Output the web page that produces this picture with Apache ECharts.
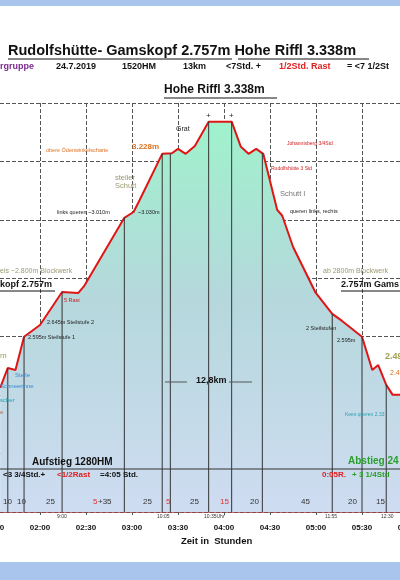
<!DOCTYPE html>
<html><head><meta charset="utf-8">
<script src="https://cdn.jsdelivr.net/npm/echarts@6/dist/echarts.min.js"></script>
<style>body{margin:0}#main{width:400px;height:580px}</style>
</head><body><div id="main"></div>
<script>
// Profil: Zeit (min) und Höhe (m)
var zeit = [94, 99, 104, 109.6, 120, 134.4, 145, 149, 175, 181, 185, 199.7, 206, 210, 215, 221, 230, 245, 251, 256, 261, 265.6, 274.7, 278, 285, 299.5, 310.6, 317, 330, 336.7, 340.6, 345.8, 350, 355];
var hoehe = [2425, 2493, 2486, 2600, 2640, 2753, 2750, 2775, 3007, 3027, 3068, 3226, 3228, 3243, 3226, 3253, 3336, 3336, 3250, 3226, 3243, 3226, 3034, 3014, 2908, 2753, 2678, 2654, 2600, 2486, 2503, 2435, 2401, 2401];
// senkrechte Linien (Zeitpunkte)
var stationen = [99, 109.6, 134.4, 175, 199.7, 205, 230, 245, 265, 310.6, 330, 345.8];
var dauer = ['10', '10', '25', '5+35', '25', '5', '25', '15', '20', '45', '20', '15'];
var dauerX = [3, 17, 46, 93, 143, 166, 190, 220, 250, 301, 348, 376];
var dauerRot = [false, false, false, 'part', false, true, false, true, false, false, false, false];
var uhrzeit = [['9:00', 63], ['10:05', 163], ['10:35Uhr', 210], ['11:55', 331], ['12:30', 387]];

function hoeheBei(t) {
    for (var i = 1; i < zeit.length; i++) {
        if (t <= zeit[i]) {
            var f = (t - zeit[i - 1]) / (zeit[i] - zeit[i - 1]);
            return hoehe[i - 1] + f * (hoehe[i] - hoehe[i - 1]);
        }
    }
    return hoehe[hoehe.length - 1];
}

var profil = zeit.map(function (t, i) { return [t, hoehe[i]]; });
var senkrecht = [];
stationen.forEach(function (t) {
    senkrecht.push([t, 2000], [t, hoeheBei(t)], '-');
});

function txt(x, y, s, f, c, w, extra) {
    var o = {type: 'text', x: x, y: y, z: 100, style: {text: s, font: (w || 'normal') + ' ' + f + 'px Arial', fill: c || '#222'}};
    if (extra) for (var k in extra) o[k] = extra[k];
    return o;
}
function strich(x1, y1, x2, y2, c, w) {
    return {type: 'line', z: 100, shape: {x1: x1, y1: y1, x2: x2, y2: y2}, style: {stroke: c || '#222', lineWidth: w || 1}};
}

var grafik = [
    {type: 'rect', shape: {x: 0, y: 0, width: 400, height: 6}, style: {fill: '#a9c5ee'}},
    {type: 'rect', shape: {x: 0, y: 562, width: 400, height: 18}, style: {fill: '#a9c5ee'}},
    txt(8, 43, 'Rudolfshütte- Gamskopf 2.757m Hohe Riffl 3.338m', 14.5, '#111', 'bold'),
    strich(8, 59, 232, 59, '#111', 1), strich(238, 59, 369, 59, '#111', 1),
    txt(0, 62, 'rgruppe', 9, '#7b2a8e', 'bold'),
    txt(56, 62, '24.7.2019', 9, '#111', 'bold'),
    txt(122, 62, '1520HM', 9, '#111', 'bold'),
    txt(183, 62, '13km', 9, '#111', 'bold'),
    txt(226, 62, '<7Std. +', 9, '#111', 'bold'),
    txt(279, 62, '1/2Std. Rast', 9, '#e02020', 'bold'),
    txt(347, 62, '= <7 1/2St', 9, '#111', 'bold'),
    txt(164, 84, 'Hohe Riffl 3.338m', 12, '#111', 'bold'),
    strich(164, 98, 277, 98, '#111', 1),
    txt(176, 126, 'Grat', 7, '#222'),
    txt(206, 112, '+', 8, '#222'), txt(229, 112, '+', 8, '#222'),
    txt(46, 147, 'obere Ödenwinkelscharte', 5.5, '#e07020'),
    txt(132, 143, '3.228m', 8, '#e07020', 'bold'),
    txt(287, 141, 'Johannisberg 3/4Std', 5, '#d02020'),
    txt(271, 166, 'Rudolfshütte 3 Std', 5, '#d02020'),
    txt(115, 174, 'steiler\nSchutt', 7.5, '#9a9a70'),
    txt(280, 190, 'Schutt I', 7.5, '#777'),
    txt(57, 209, 'links queren ~3.010m', 5.5, '#222'),
    txt(138, 209, '~3.030m', 5.5, '#222'),
    txt(290, 208, 'queren links, rechts', 5.5, '#222'),
    txt(0, 268, 'eis ~2.800m Blockwerk', 7, '#9a9a70'),
    txt(323, 268, 'ab 2800m Blockwerk', 7, '#9a9a70'),
    txt(0, 280, 'kopf 2.757m', 9, '#111', 'bold'), strich(0, 291, 55, 291, '#111', 1),
    txt(341, 280, '2.757m Gams', 9, '#111', 'bold'), strich(341, 291, 400, 291, '#111', 1),
    txt(64, 297, '5 Rast', 5.5, '#d02020'),
    txt(47, 319, '2.645m Steilstufe 2', 5.5, '#222'),
    txt(28, 334, '2.595m Steilstufe 1', 5.5, '#222'),
    txt(306, 325, '2 Steilstufen', 5.5, '#222'),
    txt(337, 337, '2.595m', 5.5, '#222'),
    txt(171, 310, 'RAST', 8, '#d02020', 'bold', {rotation: Math.PI / 2, originX: 171, originY: 310}),
    txt(203, 310, 'RAST', 8, '#d02020', 'bold', {rotation: Math.PI / 2, originX: 203, originY: 310}),
    txt(196, 376, '12,8km', 9, '#111', 'bold'),
    strich(165, 382, 187, 382, '#555', 1), strich(229, 382, 252, 382, '#555', 1),
    txt(385, 352, '2.49', 9, '#a0a050', 'bold'),
    txt(390, 370, '2.4', 7, '#e07020'),
    txt(345, 412, 'Kees queren 2.33', 5, '#2aa0b0'),
    txt(0, 352, 'm', 8, '#a0a050'),
    txt(15, 372, 'Steile', 6, '#3a8ad0'),
    txt(0, 383, 'Schneerinne', 6, '#3a8ad0'),
    txt(0, 397, 'scher', 6, '#2aa0b0'),
    txt(0, 409, 'e', 6, '#b07050'),
    strich(0, 469, 400, 469, '#333', 1),
    txt(32, 457, 'Aufstieg 1280HM', 10, '#111', 'bold'),
    txt(3, 471, '<3 3/4Std.+', 8, '#111', 'bold'),
    txt(57, 471, '<1/2Rast', 8, '#e02020', 'bold'),
    txt(100, 471, '=4:05 Std.', 8, '#111', 'bold'),
    txt(348, 456, 'Abstieg 24', 10, '#2aa02a', 'bold'),
    txt(322, 471, '0:05R.', 8, '#e02020', 'bold'),
    txt(352, 471, '+ 3 1/4Std', 8, '#2aa02a', 'bold'),
    txt(181, 536, 'Zeit in  Stunden', 9.5, '#111', 'bold')
];
dauer.forEach(function (s, i) {
    var c = dauerRot[i] === true ? '#e03030' : '#333';
    if (dauerRot[i] === 'part') {
        grafik.push(txt(dauerX[i], 498, '5', 8, '#e03030'));
        grafik.push(txt(dauerX[i] + 5, 498, '+35', 8, '#333'));
    } else {
        grafik.push(txt(dauerX[i], 498, s, 8, c));
    }
});
uhrzeit.forEach(function (u) {
    grafik.push(txt(u[1] - 6, 514, u[0], 5, '#333'));
});

var myChart = echarts.init(document.getElementById('main'));
var option = {
    animation: false,
    backgroundColor: '#fff',
    grid: {left: -6, right: -8, top: 103, bottom: 68, outerBoundsMode: 'none', containLabel: false},
    xAxis: {
        type: 'value', min: 90, max: 360, interval: 30,
        axisLine: {lineStyle: {color: '#a04040', width: 1.5}},
        axisTick: {length: 3, lineStyle: {color: '#555'}},
        axisLabel: {
            color: '#111', fontWeight: 'bold', fontSize: 8, margin: 12,
            formatter: function (v) {
                var h = Math.floor(v / 60), m = v % 60;
                return (h < 10 ? '0' : '') + h + ':' + (m < 10 ? '0' : '') + m;
            }
        },
        splitLine: {show: true, lineStyle: {type: 'dashed', color: '#555'}}
    },
    yAxis: {
        type: 'value', min: 2000, max: 3400, interval: 200,
        axisLine: {show: false}, axisTick: {show: false}, axisLabel: {show: false},
        splitLine: {show: true, lineStyle: {type: 'dashed', color: '#555'}}
    },
    graphic: grafik,
    series: [
        {
            type: 'line', data: profil, symbol: 'none',
            lineStyle: {color: '#e01515', width: 2},
            areaStyle: {
                opacity: 1,
                color: new echarts.graphic.LinearGradient(0, 0, 0, 1, [
                    {offset: 0, color: '#9ff2cc'},
                    {offset: 0.45, color: '#b5d8dc'},
                    {offset: 1, color: '#cfdcf2'}
                ])
            },
            z: 2
        },
        {
            type: 'line', data: senkrecht, symbol: 'none', connectNulls: false,
            lineStyle: {color: '#333', width: 1}, z: 3
        }
    ]
};
myChart.setOption(option);
</script>
</body></html>
